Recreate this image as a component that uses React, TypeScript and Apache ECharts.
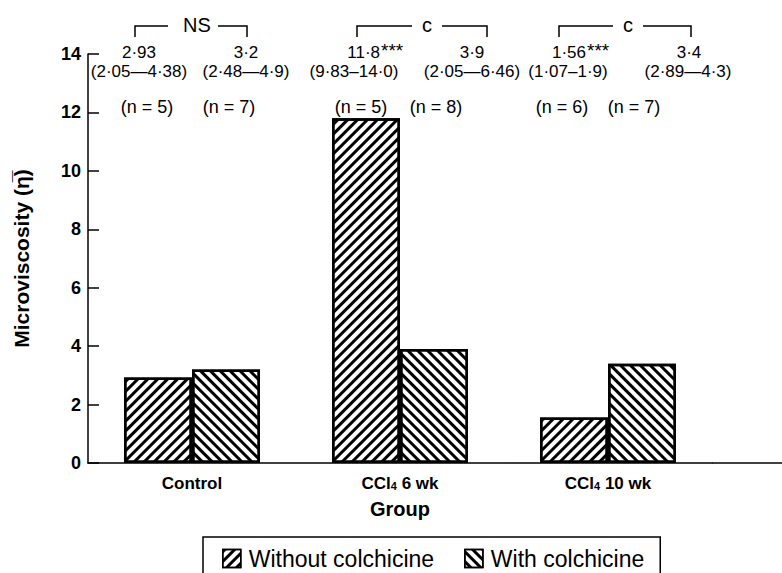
import React, { useEffect, useRef } from "react";
import * as echarts from "echarts";

const categories = ["Control", "CCl4 6 wk", "CCl4 10 wk"];
const withoutColchicine = [2.93, 11.8, 1.56];
const withColchicine = [3.2, 3.9, 3.4];
const seriesNames = ["Without colchicine", "With colchicine"];

// annotation texts (order: Control w/o, Control with, 6wk w/o, 6wk with, 10wk w/o, 10wk with)
const medianLabels = ["2·93", "3·2", "11·8", "3·9", "1·56", "3·4"];
const significanceMarks = ["", "", "***", "", "***", ""];
const rangeLabels = ["(2·05—4·38)", "(2·48—4·9)", "(9·83–14·0)", "(2·05—6·46)", "(1·07–1·9)", "(2·89—4·3)"];
const nLabels = ["(n = 5)", "(n = 7)", "(n = 5)", "(n = 8)", "(n = 6)", "(n = 7)"];
const comparisonLabels = ["NS", "c", "c"];

// layout of annotations (pixels)
const medianX = [139, 246, 380, 472, 586, 689];
const rangeX = [139, 246, 354, 472, 568, 688];
const nX = [147, 229, 361, 436, 562, 634];
const bracketX = [
  [135, 168, 197, 218, 247],
  [357, 412, 427, 442, 487],
  [559, 613, 628, 643, 691],
];

const FONT = "'Liberation Sans', Arial, Helvetica, sans-serif";

export default function App() {
  const ref = useRef<HTMLDivElement>(null);
  useEffect(() => {
    if (!ref.current) return;
    const chart = echarts.init(ref.current, null, { renderer: "svg" });

    const graphics: any[] = [];
    medianLabels.forEach((t, i) => {
      const hasSig = significanceMarks[i] !== "";
      graphics.push({
        type: "text",
        x: medianX[i],
        y: 52,
        style: {
          text: t,
          fontSize: 17,
          fontFamily: FONT,
          fill: "#000",
          textAlign: hasSig ? "right" : "center",
          textVerticalAlign: "middle",
        },
      });
      if (hasSig) {
        graphics.push({
          type: "text",
          x: medianX[i] + 1,
          y: 50,
          style: {
            text: significanceMarks[i],
            fontSize: 19,
            fontFamily: FONT,
            fill: "#000",
            textAlign: "left",
            textVerticalAlign: "middle",
          },
        });
      }
    });
    rangeLabels.forEach((t, i) => {
      graphics.push({
        type: "text",
        x: rangeX[i],
        y: 71,
        style: { text: t, fontSize: 17, fontFamily: FONT, fill: "#000", textAlign: "center", textVerticalAlign: "middle" },
      });
    });
    nLabels.forEach((t, i) => {
      graphics.push({
        type: "text",
        x: nX[i],
        y: 107,
        style: { text: t, fontSize: 18, fontFamily: FONT, fill: "#000", textAlign: "center", textVerticalAlign: "middle" },
      });
    });
    comparisonLabels.forEach((t, i) => {
      const [a, b, c, d, e] = bracketX[i];
      graphics.push({
        type: "polyline",
        shape: { points: [[a, 37], [a, 26], [b, 26]] },
        style: { stroke: "#000", lineWidth: 1.5, fill: "none" },
      });
      graphics.push({
        type: "polyline",
        shape: { points: [[d, 26], [e, 26], [e, 37]] },
        style: { stroke: "#000", lineWidth: 1.5, fill: "none" },
      });
      graphics.push({
        type: "text",
        x: c,
        y: 25,
        style: { text: t, fontSize: 20, fontFamily: FONT, fill: "#000", textAlign: "center", textVerticalAlign: "middle" },
      });
    });
    // x-axis line extension to the right edge
    graphics.push({
      type: "line",
      shape: { x1: 712, y1: 463, x2: 782, y2: 463 },
      style: { stroke: "#000", lineWidth: 1.5 },
    });

    const hatch = (rot: number) => ({
      symbol: "rect",
      symbolSize: 1,
      dashArrayX: [1, 0],
      dashArrayY: [3, 4],
      rotation: rot,
      color: "#000",
      backgroundColor: "#fff",
    });

    chart.setOption({
      animation: false,
      aria: { enabled: true, decal: { show: true } },
      backgroundColor: "#fff",
      grid: { left: 88, right: 70, top: 54, bottom: 110 },
      legend: {
        data: seriesNames,
        left: 203,
        top: 537,
        orient: "horizontal",
        itemWidth: 18,
        itemHeight: 18,
        itemGap: 30,
        icon: "rect",
        padding: [10, 16, 20, 19],
        borderColor: "#000",
        borderWidth: 1.5,
        itemStyle: { borderWidth: 1.5 },
        textStyle: { fontSize: 23, color: "#000", fontFamily: FONT, padding: [0, 0, 0, 3] },
      },
      xAxis: {
        type: "category",
        data: categories,
        axisLine: { lineStyle: { color: "#000", width: 1.5 } },
        axisTick: { show: false },
        axisLabel: {
          margin: 11,
          color: "#000",
          formatter: (v: string) =>
            v.startsWith("CCl4") ? `{b|CCl}{s|4}{b|${v.slice(4)}}` : `{b|${v}}`,
          rich: {
            b: { fontSize: 17, fontWeight: "bold", fontFamily: FONT, color: "#000", lineHeight: 18 },
            s: { fontSize: 11, fontWeight: "bold", fontFamily: FONT, color: "#000", lineHeight: 18, padding: [6, 0, 0, 0] },
          },
        },
        name: "Group",
        nameLocation: "middle",
        nameGap: 36,
        nameMoveOverlap: false,
        nameTextStyle: { fontSize: 20, fontWeight: "bold", fontFamily: FONT, color: "#000" },
      },
      yAxis: {
        type: "value",
        min: 0,
        max: 14,
        interval: 2,
        axisLine: { show: true, lineStyle: { color: "#000", width: 1.5 } },
        axisTick: { show: true, inside: true, length: 11, lineStyle: { color: "#000", width: 1.5 } },
        splitLine: { show: false },
        axisLabel: { margin: 7, color: "#000", fontSize: 18, fontWeight: "bold", fontFamily: FONT },
        name: "Microviscosity (η\u0305)",
        nameLocation: "middle",
        nameGap: 56,
        nameRotate: 90,
        nameMoveOverlap: false,
        nameTextStyle: { fontSize: 21, fontWeight: "bold", fontFamily: FONT, color: "#000" },
      },
      series: [
        {
          name: seriesNames[0],
          type: "bar",
          data: withoutColchicine,
          barWidth: 68,
          barGap: "0%",
          itemStyle: { color: "#fff", borderColor: "#000", borderWidth: 2.5, decal: hatch(-Math.PI / 4) },
        },
        {
          name: seriesNames[1],
          type: "bar",
          data: withColchicine,
          barWidth: 68,
          barGap: "0%",
          itemStyle: { color: "#fff", borderColor: "#000", borderWidth: 2.5, decal: hatch(Math.PI / 4) },
        },
      ],
      graphic: graphics,
    });
    return () => chart.dispose();
  }, []);
  return (
    <div
      ref={ref}
      style={{ position: "absolute", left: 0, top: 0, width: 782, height: 573 }}
    />
  );
}
